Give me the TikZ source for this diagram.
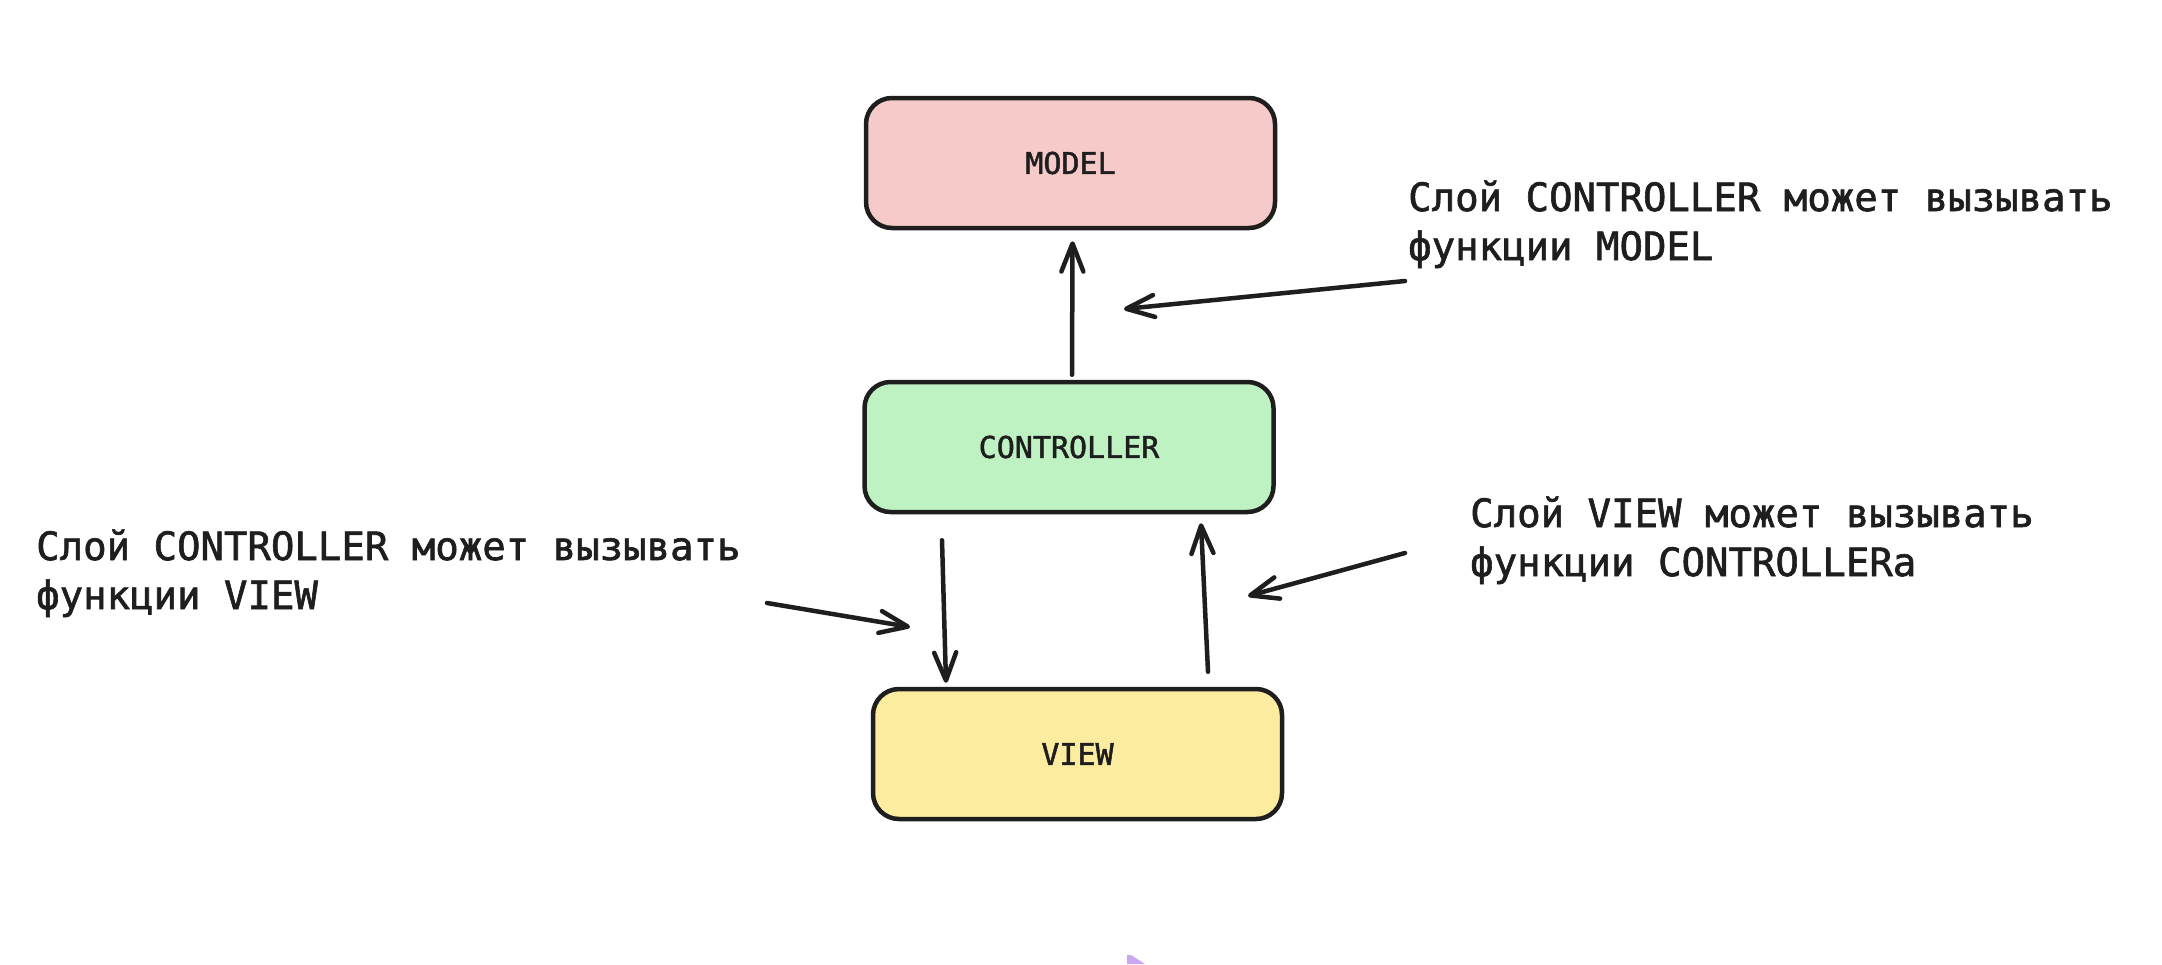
\documentclass[tikz,border=0pt]{standalone}
\usepackage{fontspec}
\newfontfamily\monofont[FakeBold=1.6]{DejaVu Sans Mono}
\usetikzlibrary{arrows.meta,calc}
\definecolor{ink}{HTML}{1E1E1E}
\definecolor{pinkfill}{HTML}{F7CACA}
\definecolor{greenfill}{HTML}{BFF2C2}
\definecolor{yellowfill}{HTML}{FCECA0}
\definecolor{cursorpurple}{HTML}{C9A7F2}
\tikzset{
  layer/.style={draw=ink, line width=4.5pt, rounded corners=26pt, minimum width=409pt, minimum height=130pt, inner sep=0pt, text=ink, font=\monofont\fontsize{30}{36}\selectfont},
  arr/.style={draw=ink, line width=4.5pt, line cap=round, -{Straight Barb[length=28pt,width=22pt,line width=4.5pt,round]}},
  note/.style={anchor=base west, inner sep=0pt, align=left, text=ink, font=\monofont\fontsize{39}{49}\selectfont}
}
\begin{document}
\begin{tikzpicture}[x=1pt,y=-1pt]
\useasboundingbox[fill=white] (0,0) rectangle (2162,964);
\node[layer, fill=pinkfill] (model) at (1070.5,163) {MODEL};
\node[layer, fill=greenfill] (ctrl) at (1069,447) {CONTROLLER};
\node[layer, fill=yellowfill] (view) at (1077.5,754) {VIEW};

\node[note] (t1) at (1408,260) {Слой CONTROLLER может вызывать\\функции MODEL};
\node[note] (t2) at (36,609) {Слой CONTROLLER может вызывать\\функции VIEW};
\node[note] (t3) at (1470,576) {Слой VIEW может вызывать\\функции CONTROLLERа};

\coordinate (a1s) at (1405,281);
\coordinate (a1e) at (1124,309);
\coordinate (a2s) at (767,603);
\coordinate (a2e) at (910,627);
\coordinate (a3s) at (1405,553);
\coordinate (a3e) at (1248,596);

\draw[arr] ([xshift=3pt,yshift=5pt]ctrl.north) -- ([xshift=2pt,yshift=-11pt]model.south);
\draw[arr] ([xshift=-127pt,yshift=-26pt]ctrl.south) -- ([xshift=-131.5pt,yshift=4pt]view.north);
\draw[arr] ([xshift=130.5pt,yshift=15pt]view.north) -- ([xshift=132pt,yshift=-9pt]ctrl.south);
\draw[arr] (a1s) -- (a1e);
\draw[arr] (a2s) -- (a2e);
\draw[arr] (a3s) -- (a3e);

\fill[cursorpurple] (1127,955) -- (1131,955) -- (1145,964) -- (1127,964) -- cycle;
\end{tikzpicture}
\end{document}
